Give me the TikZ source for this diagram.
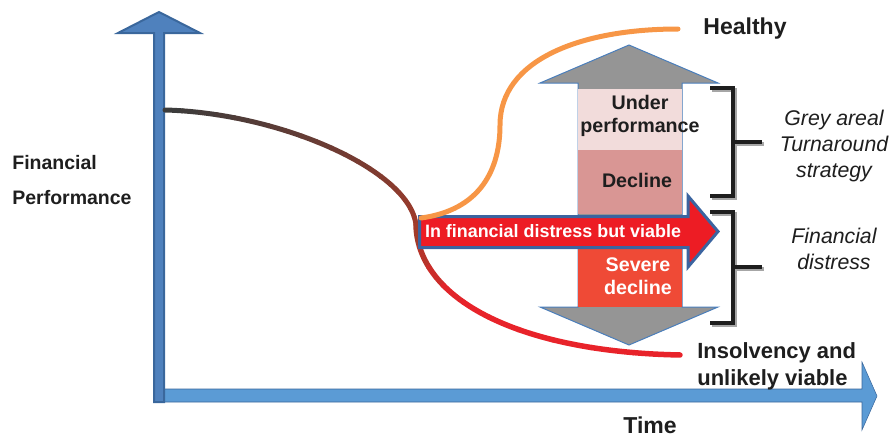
\documentclass[tikz,border=0pt]{standalone}
\usepackage{fontspec}
\setmainfont{Liberation Sans}

\definecolor{ink}{HTML}{1E1E1E}
\definecolor{axisdark}{HTML}{4F81BD}
\definecolor{axisedge}{HTML}{3A679C}
\definecolor{axislight}{HTML}{5B9BD5}
\definecolor{darkcurve}{HTML}{3C3C3C}
\definecolor{browncurve}{HTML}{A23B2A}
\definecolor{redcurve}{HTML}{E8232A}
\definecolor{healthorange}{HTML}{F79646}
\definecolor{greyarrow}{HTML}{959595}
\definecolor{edgeblue}{HTML}{4A7EBB}
\definecolor{underpink}{HTML}{F2DCDB}
\definecolor{declinepink}{HTML}{D99694}
\definecolor{severered}{HTML}{EF4A36}
\definecolor{distressred}{HTML}{ED1C24}
\definecolor{distressedge}{HTML}{3B64A0}

\tikzset{
  bigtext/.style={font=\bfseries\fontsize{13.1}{15}\selectfont, text=ink, inner sep=0pt},
  sidetext/.style={font=\bfseries\fontsize{11.1}{19.9}\selectfont, text=ink, inner sep=0pt, align=left},
  boxtext/.style={font=\bfseries\fontsize{11.2}{12.8}\selectfont, inner sep=0pt, align=center},
  notetext/.style={font=\itshape\fontsize{12.1}{14.8}\selectfont, text=ink, inner sep=0pt, align=center},
  curve/.style={line width=0.1cm, line cap=round},
  bracket/.style={line width=0.08cm, line join=miter},
}

\begin{document}
\begin{tikzpicture}[x=0.02cm, y=-0.02cm]
    \useasboundingbox (0,0) rectangle (892,436);

    % axes
    \draw[fill=axislight, draw=axisedge, line width=0.3pt]
      (160,389) -- (862,389) -- (862,362) -- (877,396) -- (862,430) -- (862,402) -- (160,402) -- cycle;
    \draw[fill=axisdark, draw=axisedge, line width=0.04cm]
      (154,402) -- (154,33) -- (118,33) -- (159,12) -- (200,33) -- (164,33) -- (164,402) -- cycle;

    % performance curve, dark at the start and brown at the split
    \foreach \i in {0,...,19}{
      \pgfmathtruncatemacro{\shade}{100-5*\i}
      \pgfmathsetmacro{\ta}{\i/20}
      \pgfmathsetmacro{\tb}{(\i+1)/20}
      \draw[curve, darkcurve!\shade!browncurve, domain=\ta:\tb, samples=6, variable=\t]
        plot ({(1-\t)^3*165 + 3*(1-\t)^2*\t*280 + 3*(1-\t)*\t^2*410 + \t^3*416},
              {(1-\t)^3*110 + 3*(1-\t)^2*\t*113 + 3*(1-\t)*\t^2*170 + \t^3*225});
    }
    % down to insolvency
    \foreach \i in {0,...,9}{
      \pgfmathtruncatemacro{\shade}{min(100,30*\i)}
      \pgfmathsetmacro{\ta}{\i/10}
      \pgfmathsetmacro{\tb}{(\i+1)/10}
      \draw[curve, line width=0.11cm, redcurve!\shade!browncurve, domain=\ta:\tb, samples=8, variable=\t]
        plot ({(1-\t)^3*416 + 3*(1-\t)^2*\t*418 + 3*(1-\t)*\t^2*520 + \t^3*680},
              {(1-\t)^3*225 + 3*(1-\t)^2*\t*300 + 3*(1-\t)*\t^2*352 + \t^3*355});
    }

    % grey double arrow
    \draw[fill=greyarrow, draw=edgeblue, line width=0.02cm]
      (629,45) -- (718,83) -- (682,83) -- (682,307) -- (718,307) -- (629,345)
      -- (540,307) -- (578,307) -- (578,83) -- (540,83) -- cycle;
    \fill[underpink] (578,89) rectangle (682,150);
    \fill[declinepink] (578,150) rectangle (682,214);
    \fill[severered] (578,249) rectangle (682,307);

    % red arrow
    \draw[fill=distressred, draw=distressedge, line width=0.06cm, line join=miter]
      (419.5,216.5) -- (688,216.5) -- (688,196) -- (718,231.5) -- (688,267) -- (688,247.5) -- (419.5,247.5) -- cycle;

    % way up to healthy
    \draw[curve, healthorange] (421,218) .. controls (480,210) and (500,170) .. (500,125)
      .. controls (500,60) and (580,29) .. (678,29);

    % brackets
    \foreach \top/\bot/\mid in {88/196/142, 212/323/267}{
      \draw[bracket, black!35, shift={(2,2)}] (710,\top) -- (733,\top) -- (733,\bot) -- (710,\bot);
      \draw[bracket, black!35, shift={(2,2)}] (733,\mid) -- (762,\mid);
      \draw[bracket, ink] (710,\top) -- (733,\top) -- (733,\bot) -- (710,\bot);
      \draw[bracket, ink] (733,\mid) -- (762,\mid);
    }

    % labels
    \node[bigtext, anchor=base] (healthy) at (745,34) {Healthy};
    \node[bigtext, anchor=base] (time) at (650,433) {Time};
    \node[bigtext, anchor=west, align=left, font=\bfseries\fontsize{12.5}{15.2}\selectfont] (insolvency) at (697,366) {Insolvency and\\unlikely viable};
    \node[sidetext, anchor=west] (perf) at (12,180) {Financial\\Performance};
    \node[boxtext, text=ink] (under) at (640,116) {Under\\performance};
    \node[boxtext, text=ink] (decline) at (637,180) {Decline};
    \node[boxtext, text=white] (severe) at (638,276) {Severe\\decline};
    \node[boxtext, text=white, font=\bfseries\fontsize{10.2}{12}\selectfont] (viable) at (553,231) {In financial distress but viable};
    \node[notetext] (grey) at (834,146) {Grey areal\\Turnaround\\strategy};
    \node[notetext] (distress) at (834,249) {Financial\\distress};
\end{tikzpicture}
\end{document}
